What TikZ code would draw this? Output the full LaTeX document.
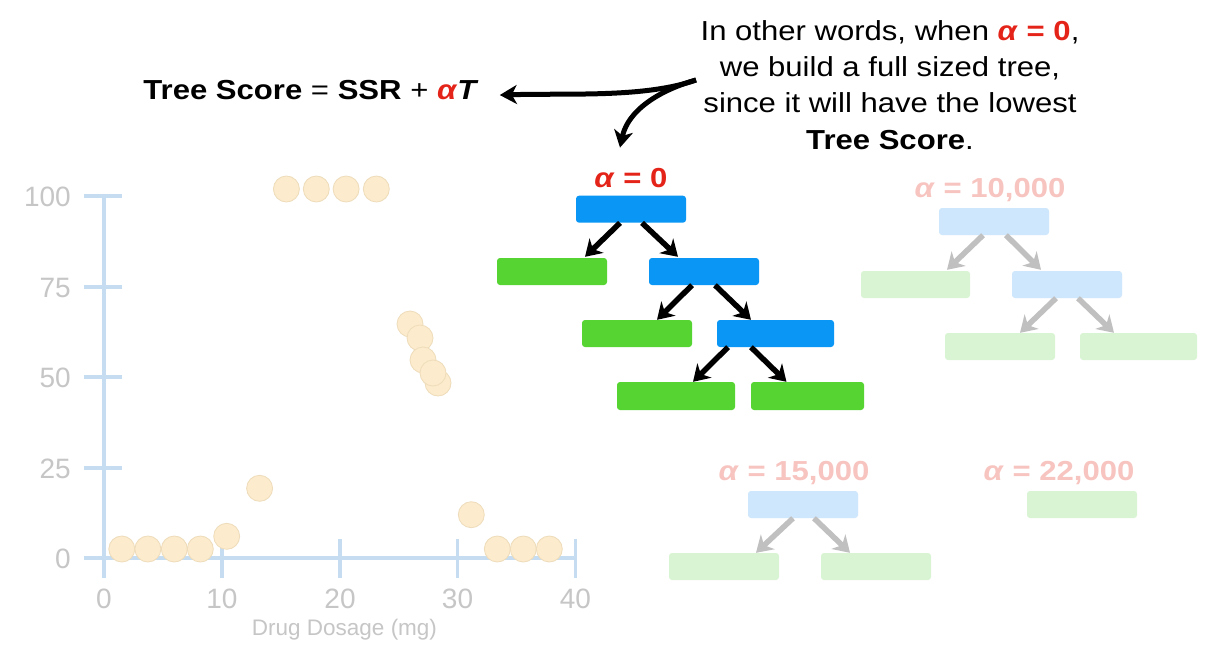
\documentclass[tikz,border=0pt]{standalone}
\usepackage{fontspec}
\setmainfont{Liberation Sans}[FakeStretch=1.13]
\newfontfamily\plainfont{Liberation Sans}
\usetikzlibrary{arrows.meta}
\definecolor{cblue}{RGB}{10,150,245}
\definecolor{cgreen}{RGB}{85,212,50}
\definecolor{cred}{RGB}{228,35,25}
\definecolor{fblue}{RGB}{206,231,252}
\definecolor{fgreen}{RGB}{217,244,210}
\definecolor{fred}{RGB}{247,196,192}
\definecolor{fgray}{RGB}{192,192,192}
\definecolor{dotfill}{RGB}{252,235,204}
\definecolor{dotline}{RGB}{238,220,186}
\definecolor{axisc}{RGB}{198,220,240}
\definecolor{tickc}{RGB}{198,198,198}
\begin{document}
\begin{tikzpicture}[x=1pt,y=-1pt,
  box/.style={rectangle, rounded corners=3pt, inner sep=0pt, minimum height=27pt, minimum width=110pt},
  blu/.style={box, fill=cblue},
  grn/.style={box, fill=cgreen},
  fblu/.style={box, fill=fblue},
  fgrn/.style={box, fill=fgreen},
  arr/.style={line width=5.5pt, -{Stealth[length=16pt,width=20pt,inset=5pt]}},
  farr/.style={arr, draw=fgray},
  carr/.style={line width=5pt, -{Stealth[length=17pt,width=19pt,inset=5pt]}},
  dot/.style={circle, fill=dotfill, draw=dotline, line width=0.8pt, minimum size=26pt, inner sep=0pt},
  axis/.style={draw=axisc, line width=3.8pt},
  ticklab/.style={text=tickc, font=\plainfont\fontsize{28}{30}\selectfont, inner sep=0pt},
  txt/.style={inner sep=0pt, font=\fontsize{27.5}{36.3}\selectfont},
  lab/.style={inner sep=0pt, font=\fontsize{27.5}{30}\selectfont\bfseries, anchor=base}
]
\fill[white] (0,0) rectangle (1215,653);
\path[use as bounding box] (0,0) rectangle (1215,653);

% ---------- plot ----------
\draw[axis] (103.9,196) -- (103.9,578);
\draw[axis] (83.6,558.3) -- (575.4,558.3);
\foreach \v/\yy in {25/467.7,50/377.3,75/286.7,100/196}
  \draw[axis] (83.6,\yy) -- (122.2,\yy);
\foreach \xx in {222,340,457.5,575.4}
  \draw[axis] (\xx,539) -- (\xx,578);
\foreach \v/\yy in {0/558.3,25/467.7,50/377.3,75/286.7,100/196}
  \node[ticklab, anchor=east] (yl\v) at (71,\yy+1) {\v};
\foreach \v/\xx in {0/103.9,10/222,20/340,30/457.5,40/575.4}
  \node[ticklab, anchor=base] (xl\v) at (\xx,608) {\v};
\node[text=tickc, inner sep=0pt, font=\plainfont\fontsize{22.5}{24}\selectfont] (xlab) at (344.5,630) {Drug Dosage (mg)};

\foreach \x/\y [count=\i] in {121.8/549,147.9/549,174.3/549,200.3/549,226.7/536.3,259.6/488.3,
    286.4/189,316.3/189,346.1/189,376.3/189,
    410/324,420/338,423/360,438/383,433/373,
    471.3/514.7,497.3/549,523.3/549,549.3/549}
  \node[dot] (d\i) at (\x,\y) {};

% ---------- text ----------
\node[txt, anchor=base, font=\fontsize{27.5}{30}\selectfont] (f) at (311,99.5)
  {\textbf{Tree Score} = \textbf{SSR} + \textcolor{cred}{\textbf{\textit{α}}}\textbf{\textit{T}}};
\node[txt, anchor=north, align=center] (para) at (890,20)
  {In other words, when \textcolor{cred}{\textbf{\textit{α} = 0}},\\
   we build a full sized tree,\\
   since it will have the lowest\\
   \textbf{Tree Score}.};

% ---------- alpha = 0 tree ----------
\node[lab, text=cred] (a0) at (631,187) {\textit{α} = 0};
\node[blu] (r) at (631,209.2) {};
\node[grn] (g1) at (552,271.5) {};
\node[blu] (b2) at (704,271.5) {};
\node[grn] (g2) at (637,333.5) {};
\node[blu, minimum width=117pt] (b3) at (775.5,333.5) {};
\node[grn, minimum width=118pt, minimum height=28pt] (g3) at (676,396) {};
\node[grn, minimum width=113pt, minimum height=28pt] (g4) at (807.5,396) {};
\draw[arr] ([xshift=-11pt]r.south) -- ([xshift=33pt,yshift=1pt]g1.north);
\draw[arr] ([xshift=11pt]r.south) -- ([xshift=-26pt,yshift=1pt]b2.north);
\draw[arr] ([xshift=-12pt]b2.south) -- ([xshift=20pt]g2.north);
\draw[arr] ([xshift=11pt]b2.south) -- ([xshift=-24.5pt]b3.north);
\draw[arr] ([xshift=-47.5pt]b3.south) -- ([xshift=17pt]g3.north);
\draw[arr] ([xshift=-24.5pt]b3.south) -- ([xshift=-21pt]g4.north);

% ---------- curved arrows ----------
\coordinate (src) at (696,80);
\draw[carr] (src) .. controls (645,98) and (570,93) .. ([xshift=21pt,yshift=-5pt]f.east);
\draw[carr] (src) .. controls (660,90) and (628,110) .. ([xshift=-11pt,yshift=20pt]a0.north);

% ---------- alpha = 10,000 tree ----------
\node[lab, text=fred] (a1) at (990,197) {\textit{α} = 10,000};
\node[fblu] (R) at (994,221.5) {};
\node[fgrn, minimum width=109pt] (G1) at (915.5,284.5) {};
\node[fblu] (B2) at (1067,284.5) {};
\node[fgrn] (G2) at (1000,346.5) {};
\node[fgrn, minimum width=117pt] (G3) at (1138.5,346.5) {};
\draw[farr] ([xshift=-11pt]R.south) -- ([xshift=31.5pt,yshift=1pt]G1.north);
\draw[farr] ([xshift=12pt]R.south) -- ([xshift=-26pt,yshift=1pt]B2.north);
\draw[farr] ([xshift=-11pt]B2.south) -- ([xshift=20pt]G2.north);
\draw[farr] ([xshift=11pt]B2.south) -- ([xshift=-24.5pt]G3.north);

% ---------- alpha = 15,000 tree ----------
\node[lab, text=fred] (a2) at (794,480.7) {\textit{α} = 15,000};
\node[fblu] (S) at (803,504.5) {};
\node[fgrn] (SL) at (724,566.5) {};
\node[fgrn] (SR) at (876,566.5) {};
\draw[farr] ([xshift=-10pt]S.south) -- ([xshift=32pt]SL.north);
\draw[farr] ([xshift=11pt]S.south) -- ([xshift=-26pt]SR.north);

% ---------- alpha = 22,000 ----------
\node[lab, text=fred] (a3) at (1059,480.7) {\textit{α} = 22,000};
\node[fgrn] (L) at (1082,504.5) {};
\end{tikzpicture}
\end{document}
